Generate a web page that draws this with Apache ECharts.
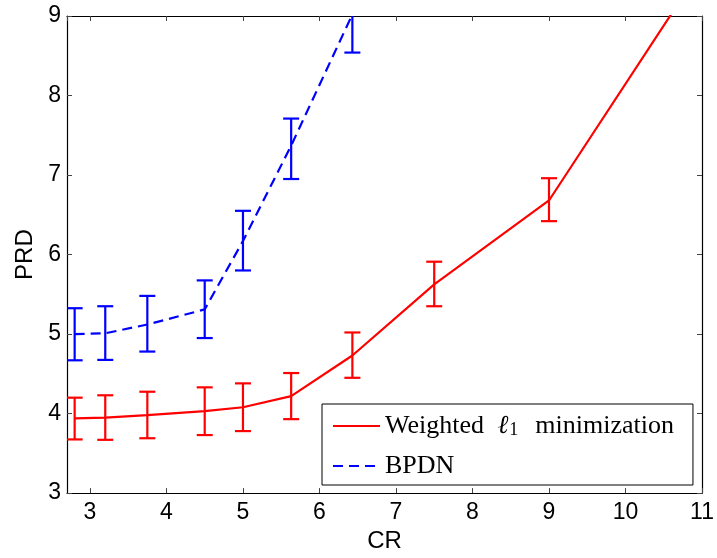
<!DOCTYPE html>
<html>
<head>
<meta charset="utf-8">
<script src="https://cdn.jsdelivr.net/npm/echarts@6/dist/echarts.min.js"></script>
<style>
  html, body { margin: 0; padding: 0; background: #fff; }
  #prdChart { width: 717px; height: 558px; }
</style>
</head>
<body>
<div id="prdChart"></div>
<script>
var chartDom = document.getElementById('prdChart');
var myPrdChart = echarts.init(chartDom);
var option;

// CR values and PRD (mean, low, high)
var crWeighted = [2.8, 3.2, 3.75, 4.5, 5.0, 5.63, 6.43, 7.5, 9.0, 11.25];
var prdWeighted = [3.94, 3.95, 3.98, 4.03, 4.08, 4.22, 4.73, 5.625, 6.68, 9.98];
var lowWeighted = [3.675, 3.67, 3.69, 3.73, 3.78, 3.93, 4.45, 5.35, 6.42];
var highWeighted = [4.20, 4.23, 4.275, 4.33, 4.38, 4.51, 5.02, 5.91, 6.96];

var crBpdn = [2.8, 3.2, 3.75, 4.5, 5.0, 5.63, 6.43];
var prdBpdn = [5.0, 5.01, 5.12, 5.31, 6.17, 7.37, 9.02];
var lowBpdn = [4.67, 4.675, 4.78, 4.95, 5.80, 6.95, 8.54];
var highBpdn = [5.325, 5.35, 5.48, 5.675, 6.55, 7.71, 9.5];

var xTicks = [3, 4, 5, 6, 7, 8, 9, 10, 11];

var nameWeighted = 'Weighted \u21131 minimization';
var nameBpdn = 'BPDN';

function pairs(xs, ys) {
   return ys.map(function (y, i) { return [xs[i], y]; });
}

function errData(xs, lo, hi) {
   return lo.map(function (l, i) { return [xs[i], l, hi[i]]; });
}

// draws the I-shaped error bar
function errorBar(color) {
   return function (params, api) {
      var top = api.coord([api.value(0), api.value(2)]);
      var bot = api.coord([api.value(0), api.value(1)]);
      var hw = 8;
      var st = { stroke: color, lineWidth: 2.2 };
      return {
         type: 'group',
         children: [
            { type: 'line', shape: { x1: top[0], y1: top[1], x2: bot[0], y2: bot[1] }, style: st },
            { type: 'line', shape: { x1: top[0] - hw, y1: top[1], x2: top[0] + hw, y2: top[1] }, style: st },
            { type: 'line', shape: { x1: bot[0] - hw, y1: bot[1], x2: bot[0] + hw, y2: bot[1] }, style: st }
         ]
      };
   };
}

var axisFont = { fontFamily: 'Liberation Sans', fontSize: 23, color: '#000' };

function intLabel(v) {
   return xTicks.indexOf(v) >= 0 ? String(v) : '';
}

option = {
   animation: false,
   grid: { left: 67, right: 15, top: 16, bottom: 62 },
   xAxis: [
      {
         type: 'value', min: 2.7, max: 11, minInterval: 1, maxInterval: 1,
         name: 'CR', nameLocation: 'middle', nameGap: 34,
         nameTextStyle: { fontFamily: 'Liberation Sans', fontSize: 24, color: '#000' },
         axisLine: { show: true, lineStyle: { color: '#000', width: 1.2 } },
         axisTick: { show: true, inside: true, length: 5, lineStyle: { color: '#444' } },
         axisLabel: Object.assign({ margin: 8, showMinLabel: false, formatter: intLabel }, axisFont),
         splitLine: { show: false }
      },
      {
         type: 'value', position: 'top', min: 2.7, max: 11, minInterval: 1, maxInterval: 1,
         axisLine: { show: true, lineStyle: { color: '#000', width: 1.2 } },
         axisTick: { show: true, inside: true, length: 5, lineStyle: { color: '#444' } },
         axisLabel: { show: false },
         splitLine: { show: false }
      }
   ],
   yAxis: [
      {
         type: 'value', min: 3, max: 9, interval: 1,
         name: 'PRD', nameLocation: 'middle', nameGap: 30,
         nameTextStyle: { fontFamily: 'Liberation Sans', fontSize: 24, color: '#000' },
         axisLine: { show: true, lineStyle: { color: '#000', width: 1.2 } },
         axisTick: { show: true, inside: true, length: 5, lineStyle: { color: '#444' } },
         axisLabel: Object.assign({ margin: 6 }, axisFont),
         splitLine: { show: false }
      },
      {
         type: 'value', position: 'right', min: 3, max: 9, interval: 1,
         axisLine: { show: true, lineStyle: { color: '#000', width: 1.2 } },
         axisTick: { show: true, inside: true, length: 5, lineStyle: { color: '#444' } },
         axisLabel: { show: false },
         splitLine: { show: false }
      }
   ],
   legend: {
      data: [nameWeighted, nameBpdn],
      orient: 'vertical',
      left: 322,
      top: 404,
      padding: [9, 19, 6, 10],
      itemGap: 14,
      itemWidth: 47,
      itemHeight: 14,
      borderColor: '#000',
      borderWidth: 1,
      backgroundColor: '#fff',
      itemStyle: { opacity: 0 },
      formatter: function (name) {
         if (name === nameWeighted) {
            return 'Weighted {l|\u2113}{s|1}minimization';
         }
         return name;
      },
      textStyle: {
         fontFamily: 'Liberation Serif',
         fontSize: 26,
         lineHeight: 26,
         color: '#000',
         rich: {
            l: { fontFamily: 'Liberation Serif', fontSize: 26, lineHeight: 26, fontStyle: 'italic', padding: [0, 0, 0, 7] },
            s: { fontFamily: 'Liberation Serif', fontSize: 18, lineHeight: 18, verticalAlign: 'bottom', padding: [0, 17, 0, 1] }
         }
      }
   },
   series: [
      {
         name: nameWeighted,
         type: 'line',
         data: pairs(crWeighted, prdWeighted),
         symbol: 'none',
         color: '#ff0000',
         lineStyle: { color: '#ff0000', width: 2.2 },
         clip: true,
         z: 3
      },
      {
         name: nameBpdn,
         type: 'line',
         data: pairs(crBpdn, prdBpdn),
         symbol: 'none',
         color: '#0000ff',
         lineStyle: { color: '#0000ff', width: 2.2, type: [10, 6] },
         clip: true,
         z: 3
      },
      {
         name: 'errWeighted',
         type: 'custom',
         data: errData(crWeighted, lowWeighted, highWeighted),
         renderItem: errorBar('#ff0000'),
         clip: true,
         z: 2
      },
      {
         name: 'errBpdn',
         type: 'custom',
         data: errData(crBpdn, lowBpdn, highBpdn),
         renderItem: errorBar('#0000ff'),
         clip: true,
         z: 2
      }
   ]
};

myPrdChart.setOption(option);
</script>
</body>
</html>
